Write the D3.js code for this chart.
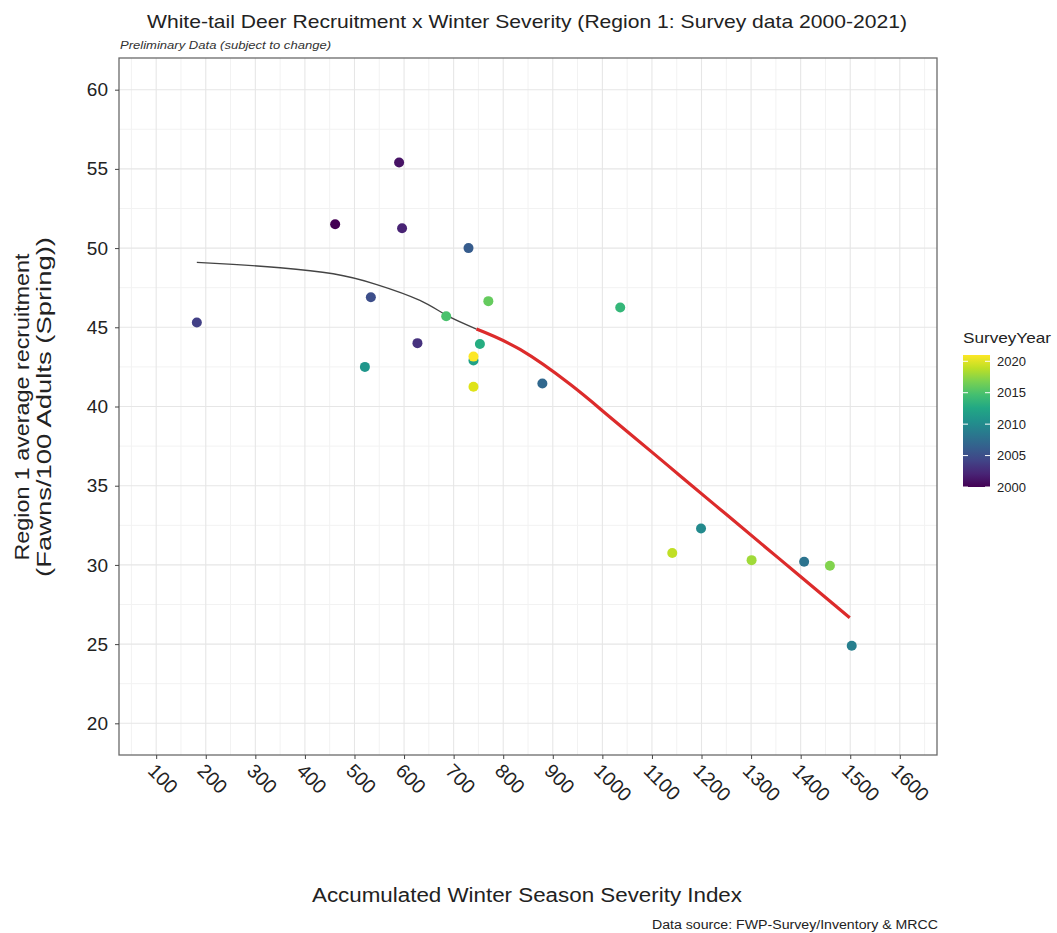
<!DOCTYPE html>
<html>
<head>
<meta charset="utf-8">
<script src="https://cdn.jsdelivr.net/npm/d3@7"></script>
<style>
  body { margin: 0; background: #fff; }
  text { font-family: "Liberation Sans", Arial, sans-serif; }
</style>
</head>
<body>
<svg id="chart" width="1057" height="933"></svg>
<script>
// ---- Data ----
const surveyYears = [2000, 2001, 2002, 2003, 2004, 2005, 2006, 2007, 2008, 2009, 2010,
                     2011, 2012, 2013, 2014, 2015, 2016, 2017, 2018, 2019, 2020, 2021];
const severityIndex = [461, 590, 596, 627, 182, 533, 730, 879, 1407, 1503, 1199,
                       521, 740, 753, 1036, 685, 770, 1459, 1301, 1141, 740, 740];
const recruitment = [51.5, 55.4, 51.25, 44.0, 45.3, 46.9, 50.0, 41.45, 30.2, 24.9, 32.3,
                     42.5, 42.9, 43.95, 46.25, 45.7, 46.65, 29.95, 30.3, 30.75, 41.25, 43.15];

// smooth (loess-like) curve, black part (x < ~745) and red part
const smoothBlackX = [182, 255, 350, 457, 545, 632, 686, 746];
const smoothBlackY = [49.10, 48.97, 48.76, 48.38, 47.70, 46.70, 45.75, 44.89];
const smoothRedX = [746, 834, 935, 1009, 1100, 1162, 1251, 1332, 1399, 1499];
const smoothRedY = [44.89, 43.60, 41.40, 39.50, 37.12, 35.49, 33.16, 31.04, 29.29, 26.67];

const xTicks = [100, 200, 300, 400, 500, 600, 700, 800, 900, 1000, 1100, 1200, 1300, 1400, 1500, 1600];
const yTicks = [20, 25, 30, 35, 40, 45, 50, 55, 60];
const legendTicks = [2000, 2005, 2010, 2015, 2020];

// ---- Layout ----
const svg = d3.select("#chart");
const L = 119, R = 937, T = 58, B = 755;

const x = d3.scaleLinear().domain([25, 1675]).range([L, R]);
const y = d3.scaleLinear().domain([18, 62]).range([B, T]);
const color = d3.scaleSequential(d3.interpolateViridis).domain([2000, 2021]);

// grid
const grid = svg.append("g");
const xMinor = d3.range(50, 1700, 100);
const yMinor = d3.range(22.5, 60, 5);
grid.selectAll(".vmin").data(xMinor).join("line")
  .attr("x1", d => x(d)).attr("x2", d => x(d)).attr("y1", T).attr("y2", B)
  .attr("stroke", "#f2f2f2").attr("stroke-width", 1);
grid.selectAll(".hmin").data(yMinor).join("line")
  .attr("y1", d => y(d)).attr("y2", d => y(d)).attr("x1", L).attr("x2", R)
  .attr("stroke", "#f2f2f2").attr("stroke-width", 1);
grid.selectAll(".vmaj").data(xTicks).join("line")
  .attr("x1", d => x(d)).attr("x2", d => x(d)).attr("y1", T).attr("y2", B)
  .attr("stroke", "#e6e6e6").attr("stroke-width", 1.1);
grid.selectAll(".hmaj").data(yTicks).join("line")
  .attr("y1", d => y(d)).attr("y2", d => y(d)).attr("x1", L).attr("x2", R)
  .attr("stroke", "#e6e6e6").attr("stroke-width", 1.1);

// smooth lines
const line = d3.line().x(d => x(d[0])).y(d => y(d[1])).curve(d3.curveNatural);
svg.append("path")
  .datum(smoothBlackX.map((v, i) => [v, smoothBlackY[i]]))
  .attr("d", line).attr("fill", "none").attr("stroke", "#444").attr("stroke-width", 1.3);
svg.append("path")
  .datum(smoothRedX.map((v, i) => [v, smoothRedY[i]]))
  .attr("d", line).attr("fill", "none").attr("stroke", "#dc2b2b").attr("stroke-width", 3.2);

// points
const pts = surveyYears.map((yr, i) => ({ yr, sx: severityIndex[i], r: recruitment[i] }));
svg.append("g").selectAll("circle").data(pts).join("circle")
  .attr("cx", d => x(d.sx)).attr("cy", d => y(d.r)).attr("r", 5)
  .attr("fill", d => color(d.yr));

// panel border
svg.append("rect").attr("x", L).attr("y", T).attr("width", R - L).attr("height", B - T)
  .attr("fill", "none").attr("stroke", "#6a6a6a").attr("stroke-width", 1.3);

// y axis
const yAxis = svg.append("g").attr("transform", `translate(${L},0)`)
  .call(d3.axisLeft(y).tickValues(yTicks).tickSize(4).tickPadding(7));
yAxis.select(".domain").remove();
yAxis.selectAll(".tick line").attr("stroke", "#444");
yAxis.selectAll(".tick text").attr("font-size", 19).attr("fill", "#222")
  .attr("font-family", "Liberation Sans, Arial, sans-serif");

// x axis
const xAxis = svg.append("g").attr("transform", `translate(0,${B})`)
  .call(d3.axisBottom(x).tickValues(xTicks).tickSize(4).tickFormat(d3.format("d")));
xAxis.select(".domain").remove();
xAxis.selectAll(".tick line").attr("stroke", "#444");
xAxis.selectAll(".tick text")
  .attr("font-size", 19.5).attr("fill", "#222")
  .attr("font-family", "Liberation Sans, Arial, sans-serif")
  .attr("text-anchor", "start")
  .attr("dy", null).attr("y", null)
  .attr("transform", "translate(-10,17) rotate(45)");

// titles
svg.append("text").attr("x", 527).attr("y", 28).attr("text-anchor", "middle")
  .attr("font-size", 19).attr("fill", "#222").attr("textLength", 760).attr("lengthAdjust", "spacingAndGlyphs")
  .text("White-tail Deer Recruitment x Winter Severity (Region 1: Survey data 2000-2021)");
svg.append("text").attr("x", 120).attr("y", 49)
  .attr("font-size", 10.5).attr("font-style", "italic").attr("fill", "#333")
  .attr("textLength", 211).attr("lengthAdjust", "spacingAndGlyphs")
  .text("Preliminary Data (subject to change)");

svg.append("text").attr("x", 527).attr("y", 902).attr("text-anchor", "middle")
  .attr("font-size", 20).attr("fill", "#222").attr("textLength", 430).attr("lengthAdjust", "spacingAndGlyphs")
  .text("Accumulated Winter Season Severity Index");
svg.append("text").attr("x", 938).attr("y", 929).attr("text-anchor", "end")
  .attr("font-size", 12).attr("fill", "#222").attr("textLength", 286).attr("lengthAdjust", "spacingAndGlyphs")
  .text("Data source: FWP-Survey/Inventory & MRCC");

const yt = svg.append("g").attr("transform", "translate(0,407) rotate(-90)");
yt.append("text").attr("x", 0).attr("y", 29).attr("text-anchor", "middle")
  .attr("font-size", 21).attr("fill", "#222").attr("textLength", 307).attr("lengthAdjust", "spacingAndGlyphs")
  .text("Region 1 average recruitment");
yt.append("text").attr("x", 0).attr("y", 51).attr("text-anchor", "middle")
  .attr("font-size", 21).attr("fill", "#222").attr("textLength", 340).attr("lengthAdjust", "spacingAndGlyphs")
  .text("(Fawns/100 Adults (Spring))");

// legend
const lgTop = 355, lgBot = 487, lgL = 963, lgW = 27;
const ly = d3.scaleLinear().domain([2000, 2021]).range([lgBot, lgTop]);
const defs = svg.append("defs");
const grad = defs.append("linearGradient").attr("id", "vir")
  .attr("x1", "0").attr("y1", "1").attr("x2", "0").attr("y2", "0");
d3.range(0, 1.0001, 0.1).forEach(t => {
  grad.append("stop").attr("offset", t).attr("stop-color", d3.interpolateViridis(t));
});
svg.append("text").attr("x", lgL).attr("y", 343).attr("font-size", 15).attr("fill", "#222")
  .attr("textLength", 88).attr("lengthAdjust", "spacingAndGlyphs")
  .text("SurveyYear");
svg.append("rect").attr("x", lgL).attr("y", lgTop).attr("width", lgW).attr("height", lgBot - lgTop)
  .attr("fill", "url(#vir)");
const lg = svg.append("g");
lg.selectAll(".tl").data(legendTicks).join("line")
  .attr("x1", lgL).attr("x2", lgL + 5).attr("y1", d => ly(d)).attr("y2", d => ly(d))
  .attr("stroke", "#fff").attr("stroke-width", 1);
lg.selectAll(".tr").data(legendTicks).join("line")
  .attr("x1", lgL + lgW - 5).attr("x2", lgL + lgW).attr("y1", d => ly(d)).attr("y2", d => ly(d))
  .attr("stroke", "#fff").attr("stroke-width", 1);
lg.selectAll("text").data(legendTicks).join("text")
  .attr("x", lgL + lgW + 7).attr("y", d => ly(d) + 4.5)
  .attr("font-size", 13).attr("fill", "#222")
  .text(d => d);
</script>
</body>
</html>
